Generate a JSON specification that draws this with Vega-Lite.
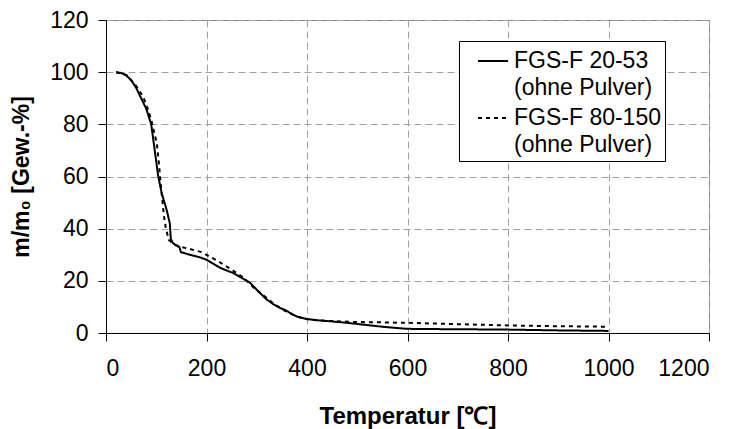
{
  "$schema": "https://vega.github.io/schema/vega-lite/v6.json",
  "width": 603,
  "height": 313,
  "autosize": {"type": "none"},
  "padding": {"left": 106, "top": 20, "right": 27, "bottom": 96},
  "background": "white",
  "config": {
    "font": "Liberation Sans",
    "view": {"stroke": "#808080", "strokeWidth": 1},
    "axis": {
      "domainColor": "black",
      "domainWidth": 1,
      "tickColor": "black",
      "tickSize": 8,
      "labelFontSize": 23,
      "labelColor": "black",
      "labelFont": "Liberation Sans",
      "titleFont": "Liberation Sans",
      "titleFontSize": 23,
      "titleFontWeight": "bold",
      "titleColor": "black",
      "gridColor": "#a0a0a0",
      "gridDash": [7, 4],
      "gridWidth": 1,
      "format": "d"
    }
  },
  "data": {
    "values": [
      {"s": "FGS-F 20-53", "t": 20, "m": 100},
      {"s": "FGS-F 20-53", "t": 30, "m": 99.7},
      {"s": "FGS-F 20-53", "t": 40, "m": 98.8},
      {"s": "FGS-F 20-53", "t": 50, "m": 97},
      {"s": "FGS-F 20-53", "t": 60, "m": 94},
      {"s": "FGS-F 20-53", "t": 70, "m": 90},
      {"s": "FGS-F 20-53", "t": 80, "m": 86},
      {"s": "FGS-F 20-53", "t": 90, "m": 80},
      {"s": "FGS-F 20-53", "t": 97, "m": 70},
      {"s": "FGS-F 20-53", "t": 104, "m": 60},
      {"s": "FGS-F 20-53", "t": 111, "m": 53.5},
      {"s": "FGS-F 20-53", "t": 121, "m": 47},
      {"s": "FGS-F 20-53", "t": 127, "m": 42},
      {"s": "FGS-F 20-53", "t": 129, "m": 36},
      {"s": "FGS-F 20-53", "t": 133, "m": 34.5},
      {"s": "FGS-F 20-53", "t": 140, "m": 33.5},
      {"s": "FGS-F 20-53", "t": 146, "m": 33},
      {"s": "FGS-F 20-53", "t": 149, "m": 31},
      {"s": "FGS-F 20-53", "t": 167, "m": 30},
      {"s": "FGS-F 20-53", "t": 187, "m": 29},
      {"s": "FGS-F 20-53", "t": 200, "m": 28.1},
      {"s": "FGS-F 20-53", "t": 227, "m": 25},
      {"s": "FGS-F 20-53", "t": 253, "m": 23},
      {"s": "FGS-F 20-53", "t": 273, "m": 20.8},
      {"s": "FGS-F 20-53", "t": 287, "m": 19.2},
      {"s": "FGS-F 20-53", "t": 303, "m": 16},
      {"s": "FGS-F 20-53", "t": 320, "m": 12.8},
      {"s": "FGS-F 20-53", "t": 335, "m": 10.8},
      {"s": "FGS-F 20-53", "t": 346, "m": 9.6},
      {"s": "FGS-F 20-53", "t": 356, "m": 8.9},
      {"s": "FGS-F 20-53", "t": 366, "m": 7.7},
      {"s": "FGS-F 20-53", "t": 380, "m": 6.3},
      {"s": "FGS-F 20-53", "t": 399, "m": 5.4},
      {"s": "FGS-F 20-53", "t": 420, "m": 4.9},
      {"s": "FGS-F 20-53", "t": 446, "m": 4.5},
      {"s": "FGS-F 20-53", "t": 480, "m": 3.9},
      {"s": "FGS-F 20-53", "t": 512, "m": 3.2},
      {"s": "FGS-F 20-53", "t": 550, "m": 2.4},
      {"s": "FGS-F 20-53", "t": 598, "m": 1.6},
      {"s": "FGS-F 20-53", "t": 650, "m": 1.5},
      {"s": "FGS-F 20-53", "t": 700, "m": 1.45},
      {"s": "FGS-F 20-53", "t": 800, "m": 1.3},
      {"s": "FGS-F 20-53", "t": 900, "m": 1.0},
      {"s": "FGS-F 20-53", "t": 1000, "m": 0.8},
      {"s": "FGS-F 80-150", "t": 20, "m": 100},
      {"s": "FGS-F 80-150", "t": 40, "m": 99},
      {"s": "FGS-F 80-150", "t": 61, "m": 94.5},
      {"s": "FGS-F 80-150", "t": 74, "m": 90.6},
      {"s": "FGS-F 80-150", "t": 84, "m": 85.5},
      {"s": "FGS-F 80-150", "t": 90, "m": 81.7},
      {"s": "FGS-F 80-150", "t": 95.5, "m": 77.2},
      {"s": "FGS-F 80-150", "t": 101, "m": 72.8},
      {"s": "FGS-F 80-150", "t": 104, "m": 67.7},
      {"s": "FGS-F 80-150", "t": 106, "m": 63.5},
      {"s": "FGS-F 80-150", "t": 109, "m": 57},
      {"s": "FGS-F 80-150", "t": 112.6, "m": 50},
      {"s": "FGS-F 80-150", "t": 115, "m": 45.3},
      {"s": "FGS-F 80-150", "t": 119, "m": 40.2},
      {"s": "FGS-F 80-150", "t": 125, "m": 35.7},
      {"s": "FGS-F 80-150", "t": 135, "m": 34},
      {"s": "FGS-F 80-150", "t": 150, "m": 33},
      {"s": "FGS-F 80-150", "t": 167, "m": 32.2},
      {"s": "FGS-F 80-150", "t": 190, "m": 31},
      {"s": "FGS-F 80-150", "t": 214, "m": 28.5},
      {"s": "FGS-F 80-150", "t": 236, "m": 26},
      {"s": "FGS-F 80-150", "t": 257, "m": 23.4},
      {"s": "FGS-F 80-150", "t": 275, "m": 21},
      {"s": "FGS-F 80-150", "t": 293, "m": 17.5},
      {"s": "FGS-F 80-150", "t": 316, "m": 14},
      {"s": "FGS-F 80-150", "t": 335, "m": 11},
      {"s": "FGS-F 80-150", "t": 356, "m": 8.5},
      {"s": "FGS-F 80-150", "t": 380, "m": 6.3},
      {"s": "FGS-F 80-150", "t": 400, "m": 5.3},
      {"s": "FGS-F 80-150", "t": 426, "m": 4.8},
      {"s": "FGS-F 80-150", "t": 460, "m": 4.5},
      {"s": "FGS-F 80-150", "t": 499, "m": 4.2},
      {"s": "FGS-F 80-150", "t": 545, "m": 4.1},
      {"s": "FGS-F 80-150", "t": 600, "m": 3.9},
      {"s": "FGS-F 80-150", "t": 700, "m": 3.4},
      {"s": "FGS-F 80-150", "t": 800, "m": 2.9},
      {"s": "FGS-F 80-150", "t": 900, "m": 2.6},
      {"s": "FGS-F 80-150", "t": 1000, "m": 2.4}
    ]
  },
  "mark": {"type": "line", "color": "black", "strokeWidth": 2},
  "encoding": {
    "x": {
      "field": "t", "type": "quantitative",
      "scale": {"domain": [0, 1200], "nice": false},
      "axis": {"values": [0, 200, 400, 600, 800, 1000, 1200], "labelPadding": 16, "title": "Temperatur [℃]", "titleFontSize": 24, "titlePadding": 24}
    },
    "y": {
      "field": "m", "type": "quantitative",
      "scale": {"domain": [0, 120], "nice": false},
      "axis": {"values": [0, 20, 40, 60, 80, 100, 120], "labelPadding": 10, "title": "m/m₀ [Gew.-%]", "titlePadding": 16}
    },
    "strokeDash": {
      "field": "s", "type": "nominal",
      "scale": {"domain": ["FGS-F 20-53", "FGS-F 80-150"], "range": [[1, 0], [4, 4]]},
      "legend": {
        "title": null,
        "orient": "none",
        "legendX": 353,
        "legendY": 21,
        "fillColor": "white",
        "strokeColor": "black",
        "padding": 4,
        "symbolOffset": 14,
        "symbolType": "stroke",
        "symbolSize": 900,
        "symbolStrokeWidth": 2,
        "symbolStrokeColor": "black",
        "labelFontSize": 23,
        "labelColor": "black",
        "labelLimit": 0,
        "labelOffset": 5,
        "rowPadding": 2,
        "labelExpr": "[datum.label, '(ohne Pulver)']",
        "encode": {"labels": {"update": {"lineHeight": {"value": 27}}}}
      }
    }
  }
}
